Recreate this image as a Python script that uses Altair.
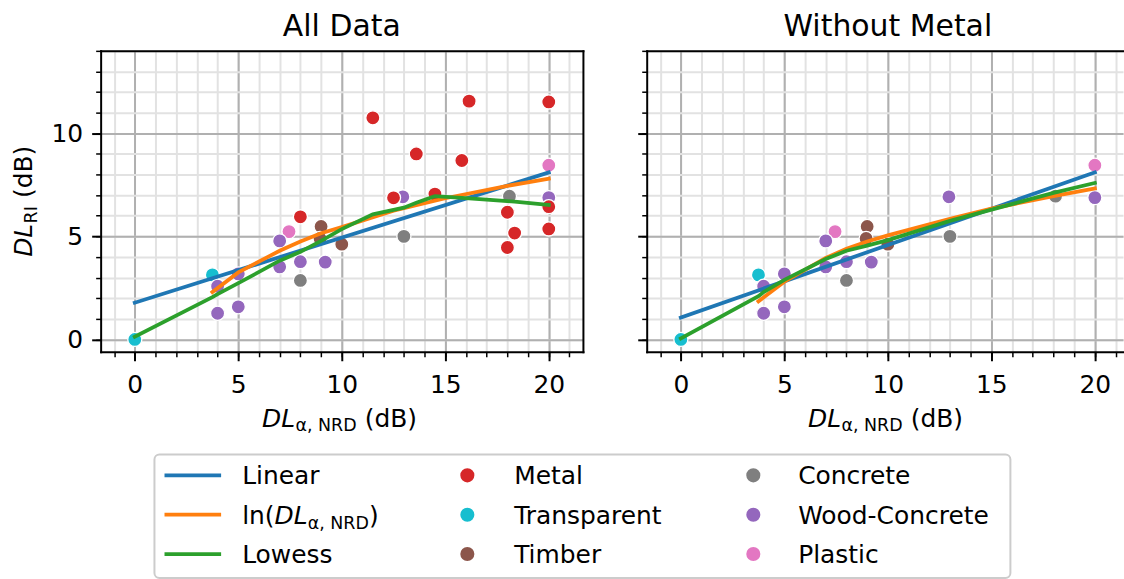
import altair as alt
import pandas as pd

FONT = "DejaVu Sans"

# ---------------- data ----------------
materials = ["Metal", "Transparent", "Timber", "Concrete", "Wood-Concrete", "Plastic"]
material_colors = ["#d62728", "#17becf", "#8c564b", "#7f7f7f", "#9467bd", "#e377c2"]
draw_order = ["Transparent", "Plastic", "Timber", "Concrete", "Wood-Concrete", "Metal"]

fit_methods = ["Linear", "ln", "Lowess"]
fit_colors = ["#1f77b4", "#ff7f0e", "#2ca02c"]

transparent_x = [0.0, 3.75]
transparent_y = [0.0, 3.13]
plastic_x = [7.45, 20.0]
plastic_y = [5.23, 8.45]
timber_x = [9.0, 8.95, 10.0]
timber_y = [5.48, 4.90, 4.62]
concrete_x = [8.0, 13.0, 18.1]
concrete_y = [2.86, 5.00, 6.95]
wood_x = [4.0, 4.0, 5.0, 5.0, 7.0, 7.0, 8.0, 9.2, 12.95, 20.0]
wood_y = [2.58, 1.27, 3.18, 1.58, 4.78, 3.52, 3.77, 3.75, 6.92, 6.88]
metal_x = [8.0, 11.5, 12.5, 13.6, 14.5, 15.8, 16.15, 18.0, 18.35, 18.0, 20.0, 20.0, 20.0]
metal_y = [5.95, 10.75, 6.87, 9.0, 7.05, 8.68, 11.56, 6.17, 5.16, 4.46, 11.52, 6.44, 5.36]

# fitted curves, "All Data"
all_linear_x = [0.0, 20.0]
all_linear_y = [1.78, 8.10]
all_ln_x = [3.75, 5.0, 7.0, 8.0, 9.0, 10.0, 12.5, 15.0, 18.0, 20.0]
all_ln_y = [2.30, 3.25, 4.30, 4.75, 5.15, 5.45, 6.25, 6.85, 7.45, 7.80]
all_lowess_x = [0.0, 3.75, 4.0, 5.0, 7.0, 8.0, 9.0, 10.0, 11.5, 12.5, 13.0, 13.6, 14.5, 15.8, 16.15, 18.0, 18.35, 20.0]
all_lowess_y = [0.13, 2.05, 2.20, 2.73, 3.82, 4.25, 4.78, 5.35, 6.07, 6.28, 6.39, 6.63, 6.95, 6.87, 6.84, 6.71, 6.68, 6.52]

# fitted curves, "Without Metal"
nm_linear_x = [0.0, 20.0]
nm_linear_y = [1.06, 8.10]
nm_ln_x = [3.75, 5.0, 7.0, 8.0, 9.0, 10.0, 13.0, 15.0, 18.0, 20.0]
nm_ln_y = [1.85, 2.80, 3.95, 4.40, 4.75, 5.05, 5.85, 6.35, 6.95, 7.32]
nm_lowess_x = [0.0, 3.75, 4.0, 5.0, 7.0, 8.0, 9.0, 10.0, 13.0, 18.0, 20.0]
nm_lowess_y = [0.05, 2.10, 2.30, 2.89, 3.90, 4.30, 4.55, 4.82, 5.75, 7.11, 7.59]

x_major = [0, 5, 10, 15, 20]
y_major = [0, 5, 10]
x_minor = list(range(-1, 22))
y_minor = list(range(0, 15))

# ---------------- tables ----------------
groups = {
    "Transparent": (transparent_x, transparent_y),
    "Plastic": (plastic_x, plastic_y),
    "Timber": (timber_x, timber_y),
    "Concrete": (concrete_x, concrete_y),
    "Wood-Concrete": (wood_x, wood_y),
    "Metal": (metal_x, metal_y),
}


def points_table(include_metal):
    rows = []
    for name in draw_order:
        if name == "Metal" and not include_metal:
            continue
        xs, ys = groups[name]
        for x, y in zip(xs, ys):
            rows.append({"x": x, "y": y, "material": name, "k": len(rows)})
    return pd.DataFrame(rows)


def fits_table(curves):
    rows = []
    for name, (xs, ys) in zip(fit_methods, curves):
        for x, y in zip(xs, ys):
            rows.append({"x": x, "y": y, "method": name})
    return pd.DataFrame(rows)


pts_all = points_table(True)
pts_nm = points_table(False)
fits_all = fits_table([(all_linear_x, all_linear_y), (all_ln_x, all_ln_y), (all_lowess_x, all_lowess_y)])
fits_nm = fits_table([(nm_linear_x, nm_linear_y), (nm_ln_x, nm_ln_y), (nm_lowess_x, nm_lowess_y)])

ONE = alt.Data(values=[{"a": 1}])
mat_scale = alt.Scale(domain=materials, range=material_colors)
fit_scale = alt.Scale(domain=fit_methods, range=fit_colors)

MARK_SIZE = 200
LINE_W = 3.8


# ---------------- helpers ----------------
def minor_axis(orient, values):
    return alt.Axis(orient=orient, values=values, grid=True, gridColor="#e2e2e2", gridWidth=2,
                    ticks=True, tickSize=5, tickWidth=1.5, tickColor="black",
                    labels=False, domain=False, title=None)


def major_axis(orient, values, labels):
    return alt.Axis(orient=orient, values=values, grid=True, gridColor="#b0b0b0", gridWidth=2,
                    ticks=True, tickSize=9, tickWidth=2, tickColor="black",
                    labels=labels, labelFont=FONT, labelFontSize=25, labelColor="black",
                    labelPadding=12 if orient == "bottom" else 9,
                    labelOverlap=False, labelFlush=False,
                    domain=True, domainColor="black", domainWidth=2, domainCap="square",
                    title=None)


def spine_axis(orient):
    return alt.Axis(orient=orient, grid=False, ticks=False, labels=False,
                    domain=True, domainColor="black", domainWidth=2, domainCap="square",
                    title=None)


def txt(s, x, y, size=25, italic=False, angle=None, align="left", dx=0, dy=0):
    kw = dict(text=s, font=FONT, fontSize=size, align=align, baseline="alphabetic", color="black")
    if italic:
        kw["fontStyle"] = "italic"
    if angle is not None:
        kw["angle"] = angle
    if dx:
        kw["dx"] = dx
    if dy:
        kw["dy"] = dy
    return alt.Chart(ONE).mark_text(**kw).encode(x=alt.value(x), y=alt.value(y))


def anchor(x, y1, y2):
    return alt.Chart(ONE).mark_rule(strokeWidth=0, opacity=0).encode(
        x=alt.value(x), x2=alt.value(x), y=alt.value(y1), y2=alt.value(y2))


H = 302


def panel(pts, fits, title, width, x_max, first):
    xs = alt.Scale(domain=[-1.65, x_max], nice=False, zero=False)
    ys = alt.Scale(domain=[-0.6, 14], nice=False, zero=False)
    points = alt.Chart(pts).mark_circle(size=MARK_SIZE, opacity=1, stroke="white", strokeWidth=1.3).encode(
        x=alt.X("x:Q", scale=xs, axis=minor_axis("bottom", x_minor)),
        y=alt.Y("y:Q", scale=ys, axis=minor_axis("left", y_minor)),
        color=alt.Color("material:N", scale=mat_scale, legend=None),
        order=alt.Order("k:Q"),
    )
    lines = alt.Chart(fits).mark_line(strokeWidth=LINE_W, strokeCap="square").encode(
        x=alt.X("x:Q", scale=xs, axis=major_axis("bottom", x_major, True)),
        y=alt.Y("y:Q", scale=ys, axis=major_axis("left", y_major, first)),
        color=alt.Color("method:N", scale=fit_scale, legend=None),
    )
    spines = alt.Chart(pts).mark_point(opacity=0).encode(
        x=alt.X("x:Q", scale=xs, axis=spine_axis("top")),
        y=alt.Y("y:Q", scale=ys, axis=spine_axis("right") if first else None),
    )
    layers = [points, lines, spines,
              txt(title, 242, -15, size=30, align="center"),
              txt("DL", 162, 377, italic=True),
              txt("α, NRD", 195.5, 382, size=17.5),
              txt("(dB)", 265, 377)]
    if first:
        layers += [txt("DL", -69, 206.7, italic=True, angle=270),
                   txt("RI", -69, 206.7, size=17.5, angle=270, dx=33.5, dy=5),
                   txt("(dB)", -69, 206.7, angle=270, dx=59),
                   anchor(-100, -49, H + 100)]
    else:
        layers += [anchor(0, -49, H + 100)]
    return alt.layer(*layers).resolve_axis(x="independent", y="independent").resolve_scale(
        color="independent").properties(width=width, height=H)


left = panel(pts_all, fits_all, "All Data", 484, 21.65, True)
right = panel(pts_nm, fits_nm, "Without Metal", 478, 21.36, False)

# ---------------- legend ----------------
legend_fit = pd.DataFrame({"method": fit_methods, "row": [0, 1, 2]})
legend_mat = pd.DataFrame({"material": materials, "col": [1, 1, 1, 2, 2, 2], "row": [0, 1, 2, 0, 1, 2]})
legend_txt = pd.DataFrame({"label": ["Linear", "Lowess"] + materials,
                           "col": [0, 0, 1, 1, 1, 2, 2, 2],
                           "row": [0, 2, 0, 1, 2, 0, 1, 2]})
row_scale = alt.Scale(domain=[0, 2], range=[21, 100])
L0 = 54  # legend box left edge inside the legend view

lg_box = alt.Chart(ONE).mark_rect(fill="white", stroke="#cccccc", strokeWidth=2, cornerRadius=5).encode(
    x=alt.value(L0), x2=alt.value(L0 + 859), y=alt.value(0), y2=alt.value(124))
lg_lines = alt.Chart(legend_fit).mark_rule(strokeWidth=LINE_W, strokeCap="square").encode(
    x=alt.value(L0 + 12), x2=alt.value(L0 + 65),
    y=alt.Y("row:Q", scale=row_scale, axis=None),
    color=alt.Color("method:N", scale=fit_scale, legend=None),
)
lg_pts = alt.Chart(legend_mat).mark_circle(size=MARK_SIZE, opacity=1).encode(
    x=alt.X("col:Q", scale=alt.Scale(domain=[1, 2], range=[L0 + 314, L0 + 601]), axis=None),
    y=alt.Y("row:Q", scale=row_scale, axis=None),
    color=alt.Color("material:N", scale=mat_scale, legend=None),
)
lg_txt = alt.Chart(legend_txt).mark_text(font=FONT, fontSize=25, align="left", baseline="alphabetic",
                                         dy=9, color="black").encode(
    x=alt.X("col:Q", scale=alt.Scale(domain=[0, 1, 2], range=[L0 + 88, L0 + 361, L0 + 646]), axis=None),
    y=alt.Y("row:Q", scale=row_scale, axis=None),
    text="label:N",
)
ly = 60.5 + 9
legend = alt.layer(
    lg_box, lg_lines, lg_pts, lg_txt,
    txt("ln(", L0 + 88, ly),
    txt("DL", L0 + 120.6, ly, italic=True),
    txt("α, NRD", L0 + 153.8, ly + 5, size=17.5),
    txt(")", L0 + 215.3, ly),
).resolve_scale(x="independent", color="independent").properties(width=L0 + 859, height=124)

chart = alt.vconcat(
    alt.hconcat(left, right, spacing=52),
    legend,
    spacing=0,
).properties(padding=0).configure_view(stroke="transparent")

chart.save("out.html", embed_options={"renderer": "svg", "actions": False})
